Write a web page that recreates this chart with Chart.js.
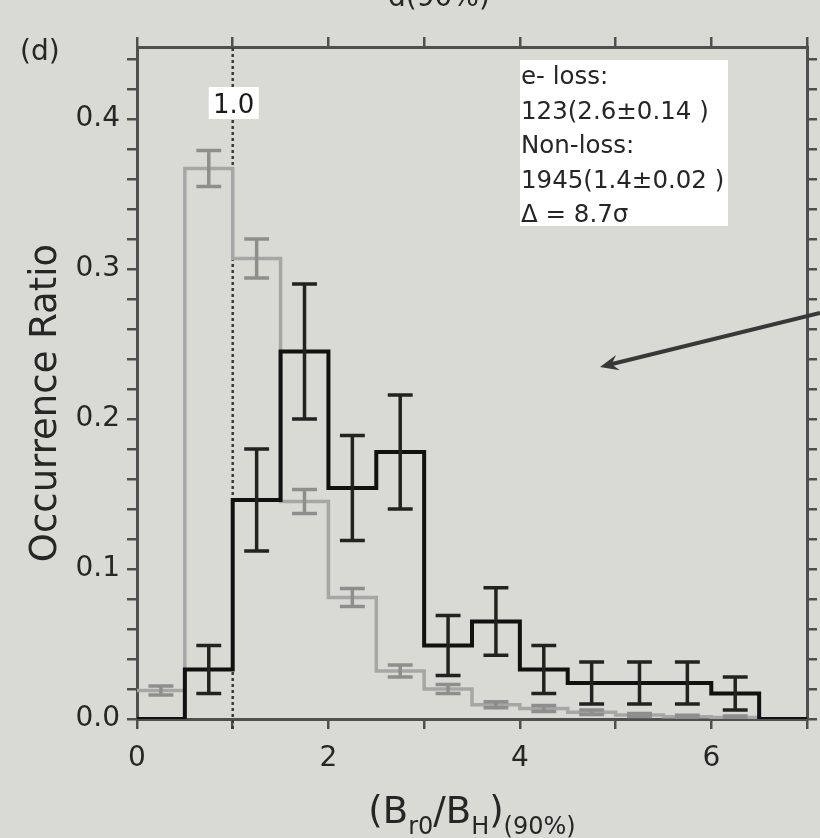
<!DOCTYPE html>
<html>
<head>
<meta charset="utf-8">
<script src="https://cdn.jsdelivr.net/npm/chart.js@4.4.1/dist/chart.umd.min.js"></script>
<style>
  body { margin: 0; background: #d9dad4; }
  #wrap { width: 820px; height: 838px; position: relative; }
</style>
</head>
<body>
<div id="wrap"><canvas id="myChart"></canvas></div>
<script>
// bin edges of (Br0/BH)(90%)
const binEdges = [0, 0.5, 1.0, 1.5, 2.0, 2.5, 3.0, 3.5, 4.0, 4.5, 5.0, 5.5, 6.0, 6.5, 7.0]
// e- loss events (black)
const lossRatio = [0, 0.033, 0.146, 0.245, 0.154, 0.178, 0.049, 0.065, 0.033, 0.024, 0.024, 0.024, 0.017, 0]
const lossErr   = [0, 0.016, 0.034, 0.045, 0.035, 0.038, 0.020, 0.0225, 0.016, 0.014, 0.014, 0.014, 0.011, 0]
// non-loss events (grey)
const nonLossRatio = [0.019, 0.367, 0.307, 0.145, 0.081, 0.032, 0.020, 0.0095, 0.007, 0.0045, 0.0027, 0.0015, 0.001, 0]
const nonLossErr   = [0.003, 0.012, 0.013, 0.008, 0.006, 0.004, 0.003, 0.002, 0.002, 0.0015, 0.001, 0.001, 0.001, 0]

const boxLines = ['e- loss:', '123(2.6±0.14 )', 'Non-loss:', '1945(1.4±0.02 )', 'Δ = 8.7σ']
const FONT = '"DejaVu Sans", sans-serif'

// histogram outline: two points per bin
const step_points = (vals) => {
  let pts = []
  vals.forEach((v,i)=>{
    pts.push({x:binEdges[i], y:v})
    pts.push({x:binEdges[i+1], y:v})
  })
  return pts
}

// error bars: vertical line + caps, separated by gaps
const err_points = (vals, errs, capW) => {
  let pts = []
  vals.forEach((v,i)=>{
    const e = errs[i]
    if(!e) return
    const c = (binEdges[i] + binEdges[i+1]) / 2
    pts.push({x:c, y:v-e}, {x:c, y:v+e}, {x:c, y:null})
    pts.push({x:c-capW, y:v+e}, {x:c+capW, y:v+e}, {x:c, y:null})
    pts.push({x:c-capW, y:v-e}, {x:c+capW, y:v-e}, {x:c, y:null})
  })
  return pts
}

const axisColor = '#4f4f4f'
const tickColor = '#262626'

const is_tenth = (v) => Math.abs(v*10 - Math.round(v*10)) < 1e-6

const annotations = {
  id: 'annotations',
  beforeDatasetsDraw(chart) {
    const {ctx, scales:{x, y}} = chart
    // dotted reference line at 1.0
    ctx.save()
    ctx.strokeStyle = '#3a3a3a'
    ctx.lineWidth = 2.5
    ctx.setLineDash([3, 3])
    ctx.beginPath()
    ctx.moveTo(x.getPixelForValue(1.0), y.getPixelForValue(0) + 10)
    ctx.lineTo(x.getPixelForValue(1.0), chart.chartArea.top)
    ctx.stroke()
    ctx.restore()
  },
  afterDraw(chart) {
    const {ctx, scales:{x, y}} = chart
    ctx.save()
    ctx.textBaseline = 'alphabetic'

    // "1.0" label
    ctx.font = `26px ${FONT}`
    const lx = x.getPixelForValue(1.0)
    ctx.fillStyle = '#ffffff'
    ctx.fillRect(lx - 24, 87, 50, 32)
    ctx.fillStyle = '#1a1a1a'
    ctx.textAlign = 'center'
    ctx.fillText('1.0', lx + 1, 113)

    // stats box
    ctx.fillStyle = '#ffffff'
    ctx.fillRect(520, 60, 208, 166)
    ctx.fillStyle = '#262626'
    ctx.textAlign = 'left'
    ctx.font = `24.5px ${FONT}`
    boxLines.forEach((t,i)=>{
      ctx.fillText(t, 521, 84 + i*34.5)
    })

    // arrow
    const x0 = 820, y0 = 313
    const x1 = 600, y1 = 367
    ctx.strokeStyle = '#383838'
    ctx.fillStyle = '#383838'
    ctx.lineWidth = 4
    ctx.beginPath()
    ctx.moveTo(x0, y0)
    ctx.lineTo(x1 + 8, y1 - 2)
    ctx.stroke()
    const ang = Math.atan2(y1 - y0, x1 - x0)
    ctx.beginPath()
    ctx.moveTo(x1, y1)
    ctx.lineTo(x1 - 20*Math.cos(ang - 0.4), y1 - 20*Math.sin(ang - 0.4))
    ctx.lineTo(x1 - 12*Math.cos(ang), y1 - 12*Math.sin(ang))
    ctx.lineTo(x1 - 20*Math.cos(ang + 0.4), y1 - 20*Math.sin(ang + 0.4))
    ctx.closePath()
    ctx.fill()

    // panel label and cut-off heading
    ctx.fillStyle = '#262626'
    ctx.font = `28px ${FONT}`
    ctx.fillText('(d)', 20, 60)
    ctx.fillText('d(90%)', 388, 6)

    // y title
    ctx.save()
    ctx.translate(46, 403)
    ctx.rotate(-Math.PI/2)
    ctx.textAlign = 'center'
    ctx.textBaseline = 'middle'
    ctx.font = `37px ${FONT}`
    ctx.fillText('Occurrence Ratio', 0, 0)
    ctx.restore()

    // x title with subscripts
    const parts = [
      {t:'(B', s:false}, {t:'r0', s:true}, {t:'/B', s:false}, {t:'H', s:true},
      {t:')', s:false}, {t:'(90%)', s:true}
    ]
    const big = `37px ${FONT}`, small = `24px ${FONT}`
    let total = 0
    parts.forEach(p=>{ ctx.font = p.s ? small : big; p.w = ctx.measureText(p.t).width; total += p.w })
    let px = 472 - total/2
    ctx.textAlign = 'left'
    parts.forEach(p=>{
      ctx.font = p.s ? small : big
      ctx.fillText(p.t, px, p.s ? 834 : 823)
      px += p.w
    })
    ctx.restore()
  }
}

const gridOpts = {
  drawOnChartArea: false,
  drawTicks: true,
  tickLength: 10,
  color: axisColor,
  lineWidth: 2.5,
}
const borderOpts = { display: true, color: axisColor, width: 3 }

const xScale = (pos, showLabels, h) => ({
  type: 'linear', position: pos, min: 0, max: 7,
  grid: gridOpts, border: borderOpts,
  ticks: {
    display: showLabels, stepSize: 1, autoSkip: false, maxRotation: 0, includeBounds: false,
    padding: 13, color: tickColor, font: {family: FONT, size: 28},
    callback: (v) => (v % 2 === 0 ? String(v) : ''),
  },
  afterFit: (s) => { s.height = h },
})
const yScale = (pos, showLabels, w) => ({
  type: 'linear', position: pos, min: 0, max: 0.448,
  grid: gridOpts, border: borderOpts,
  ticks: {
    display: showLabels, stepSize: 0.02, autoSkip: false, includeBounds: false,
    padding: 7, color: tickColor, font: {family: FONT, size: 28},
    callback: (v) => (is_tenth(v) ? v.toFixed(1) : ''),
  },
  afterFit: (s) => { s.width = w },
})

new Chart(document.getElementById('myChart'), {
  type: 'scatter',
  data: {
    datasets: [
      {
        label: 'e- loss err', data: err_points(lossRatio, lossErr, 0.13), order: 0,
        showLine: true, borderColor: '#222222', borderWidth: 3.5, pointRadius: 0, spanGaps: false,
      },
      {
        label: 'e- loss', data: step_points(lossRatio), order: 1,
        showLine: true, borderColor: '#111111', borderWidth: 4, pointRadius: 0,
      },
      {
        label: 'Non-loss err', data: err_points(nonLossRatio, nonLossErr, 0.13), order: 2,
        showLine: true, borderColor: '#8e8e8e', borderWidth: 3.5, pointRadius: 0, spanGaps: false,
      },
      {
        label: 'Non-loss', data: step_points(nonLossRatio), order: 3,
        showLine: true, borderColor: '#a6a6a6', borderWidth: 3.5, pointRadius: 0,
      },
    ]
  },
  options: {
    responsive: true,
    maintainAspectRatio: false,
    animation: false,
    layout: { padding: 0 },
    plugins: { legend: {display: false}, tooltip: {enabled: false} },
    scales: {
      x: xScale('bottom', true, 119),
      x2: xScale('top', false, 47),
      y: yScale('left', true, 137),
      y2: yScale('right', false, 11),
    }
  },
  plugins: [annotations]
})
</script>
</body>
</html>
